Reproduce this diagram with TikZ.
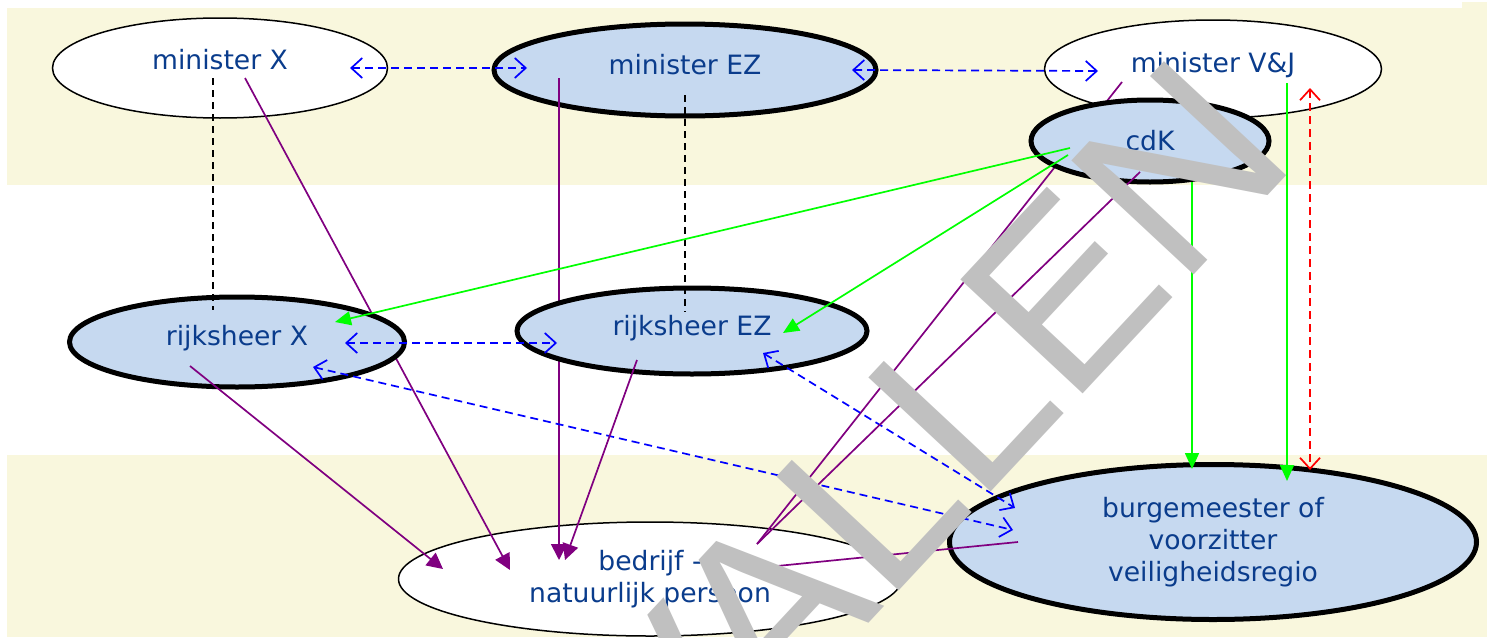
\documentclass[tikz,border=0pt]{standalone}
\usepackage{fontspec}
\setmainfont{DejaVu Sans}
\newfontfamily\wmfont{Liberation Sans}
\usetikzlibrary{shapes.geometric,arrows.meta,calc}
\definecolor{band}{RGB}{249,247,221}
\definecolor{nodeblue}{RGB}{198,217,240}
\definecolor{txtblue}{RGB}{10,60,140}
\definecolor{purp}{RGB}{128,0,128}
\definecolor{grn}{RGB}{0,255,0}
\definecolor{wmgray}{RGB}{192,192,192}
\begin{document}
\begin{tikzpicture}[x=1pt,y=-1pt,
  lbl/.style={font=\fontsize{26.6}{32}\selectfont, text=txtblue, align=center},
  plainnode/.style={ellipse, draw=black, line width=1.5pt, fill=white, inner sep=0pt, lbl},
  hlnode/.style={ellipse, draw=black, line width=5pt, fill=nodeblue, inner sep=0pt, lbl},
  purparrow/.style={draw=purp, line width=1.7pt, -{Triangle[length=16pt,width=16pt]}},
  purpline/.style={draw=purp, line width=1.7pt},
  grnarrow/.style={draw=grn, line width=1.7pt, -{Triangle[length=16pt,width=14pt]}},
  bluedd/.style={draw=blue, line width=1.7pt, dash pattern=on 8pt off 5pt,
    {Straight Barb[length=11pt,width=20pt]}-{Straight Barb[length=11pt,width=20pt]}},
  reddd/.style={draw=red, line width=1.7pt, dash pattern=on 8pt off 5pt,
    {Straight Barb[length=11pt,width=20pt]}-{Straight Barb[length=11pt,width=20pt]}},
  blkdash/.style={draw=black, line width=1.7pt, dash pattern=on 7pt off 5pt},
  bandfill/.style={fill=band, draw=none},
  wmark/.style={text=wmgray, font=\wmfont\fontsize{243}{243}\selectfont, inner sep=0pt}
]
\useasboundingbox (0,0) rectangle (1493,637);
% bands
\path[bandfill] (7,8) rectangle (1487,185);
\path[bandfill] (1462,2) rectangle (1487,8);
\path[bandfill] (7,455) rectangle (1487,637);

% first nodes
\node[plainnode, minimum width=335pt, minimum height=100pt, text depth=18pt] (minX) at (220,68) {minister X};
\node[hlnode, minimum width=382pt, minimum height=92pt, text depth=12pt] (minEZ) at (685,70) {minister EZ};
\node[plainnode, minimum width=337pt, minimum height=98pt, text depth=14pt] (minVJ) at (1213,69) {minister V\&J};
\node[plainnode, minimum width=503pt, minimum height=114pt] (bed) at (650,579) {bedrijf -\\natuurlijk persoon};
\node[hlnode, minimum width=527pt, minimum height=155pt] (burg) at (1213,542) {burgemeester of\\voorzitter\\veiligheidsregio};

% connectors that pass behind nodes
\draw[purpline] ($(minVJ)+(-91,13)$) -- ($(bed)+(107,-35)$);
\draw[purparrow] ($(minX)+(25,10)$) -- ($(bed)+(-140,-9)$);
\draw[purparrow] ($(minEZ)+(-126,8)$) -- ($(bed)+(-91,-19)$);

% second nodes
\node[hlnode, minimum width=238pt, minimum height=82pt] (cdK) at (1150,141) {cdK};
\node[hlnode, minimum width=335pt, minimum height=90pt, text depth=14pt] (rX) at (237,342) {rijksheer X};
\node[hlnode, minimum width=350pt, minimum height=86pt, text depth=11pt] (rEZ) at (692,331) {rijksheer EZ};

% remaining connectors
\draw[blkdash] ($(minX)+(-7,10)$) -- ($(rX)+(-24,-32)$);
\draw[blkdash] ($(minEZ)+(0,25)$) -- ($(rEZ)+(-7,-19)$);
\draw[bluedd] ($(minX)+(130,0)$) -- ($(minEZ)+(-158,-2)$);
\draw[bluedd] ($(minEZ)+(167,0)$) -- ($(minVJ)+(-115,2)$);
\draw[bluedd] ($(rX)+(108,1)$) -- ($(rEZ)+(-135,12)$);
\draw[bluedd] ($(rX)+(76,25)$) -- ($(burg)+(-200,-12)$);
\draw[bluedd] ($(rEZ)+(71,22)$) -- ($(burg)+(-198,-34)$);
\draw[reddd] ($(minVJ)+(97,19)$) -- ($(burg)+(97,-72)$);
\draw[purparrow] ($(rX)+(-47,24)$) -- ($(bed)+(-207,-10)$);
\draw[purparrow] ($(rEZ)+(-55,29)$) -- ($(bed)+(-85,-19)$);
\draw[purpline] ($(cdK)+(-10,31)$) -- ($(bed)+(107,-35)$);
\draw[purpline] ($(burg)+(-195,0)$) -- ($(bed)+(107,-11)$);
\draw[grnarrow] ($(cdK)+(-80,7)$) -- ($(rX)+(98,-20)$);
\draw[grnarrow] ($(cdK)+(-82,14)$) -- ($(rEZ)+(91,2)$);
\draw[grnarrow] ($(cdK)+(42,41)$) -- ($(burg)+(-21,-73)$);
\draw[grnarrow] ($(minVJ)+(74,14)$) -- ($(burg)+(74,-61)$);

% watermark
\begin{scope}
\clip (0,0) rectangle (1493,637);
\node[wmark, rotate=47, anchor=base east] (wm) at (1300,161) {VERVALLEN};
\end{scope}
\end{tikzpicture}
\end{document}
